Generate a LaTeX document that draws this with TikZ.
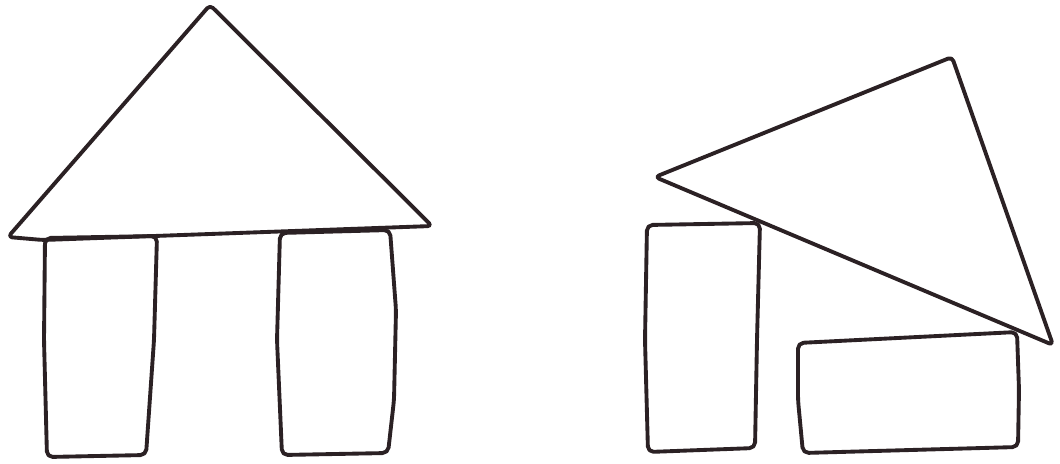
\documentclass[tikz,border=0pt]{standalone}
\definecolor{ink}{HTML}{2B2124}
\begin{document}
\begin{tikzpicture}[x=0.01cm,y=-0.01cm,
  pen/.style={draw=ink,line width=1.1pt,line join=round,line cap=round},
  blockrect/.style={pen,rounded corners=1.6pt},
  blocktri/.style={pen,rounded corners=1.2pt}]
\useasboundingbox[fill=white] (0,0) rectangle (1060,463);
% left house
\draw[blocktri] (210,5) -- (432,226) -- (43,240) -- (8,237) -- cycle;
\draw[blockrect] (45,238) -- (157,236) -- (154,340) -- (146,455) -- (47,457) -- (44,340) -- cycle;
\draw[blockrect] (280,233) -- (390,230) -- (396,310) -- (394,400) -- (388,453) -- (282,455) -- (277,340) -- cycle;
% right arrangement
\draw[blocktri] (655,177) -- (952,57) -- (1053,345) -- cycle;
\draw[blockrect] (647,225) -- (760,223) -- (757,340) -- (755,448) -- (648,452) -- (645,340) -- cycle;
\draw[blockrect] (798,343) -- (1017,332) -- (1019,390) -- (1018,447) -- (803,453) -- (798,400) -- cycle;
\end{tikzpicture}
\end{document}
